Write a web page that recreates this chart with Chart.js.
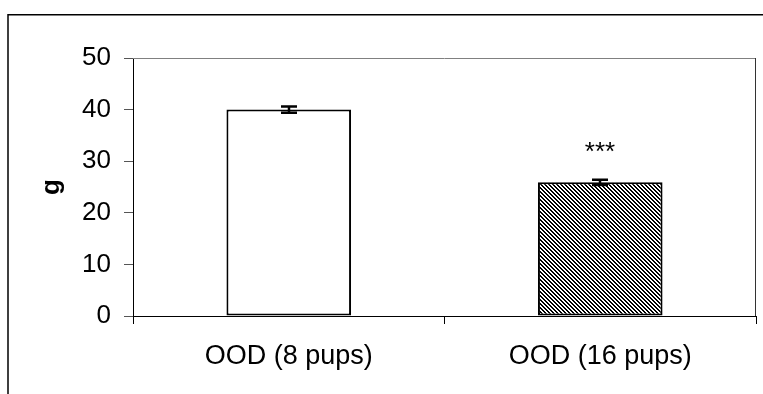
<!DOCTYPE html>
<html>
<head>
<meta charset="utf-8">
<script src="https://cdn.jsdelivr.net/npm/chart.js@4/dist/chart.umd.min.js"></script>
<style>
  html, body { margin: 0; padding: 0; background: #fff; }
  #wrap { width: 763px; height: 394px; position: relative; }
</style>
</head>
<body>
<div id="wrap"><canvas id="c" width="763" height="394"></canvas></div>
<script>
// Weight per group (g), with error bars and significance markers
const categories = ['OOD (8 pups)', 'OOD (16 pups)'];
const weightG = [40.0, 25.9];
const weightErr = [0.6, 0.5];
const significance = ['', '***'];
const yTickValues = [0, 10, 20, 30, 40, 50];

const FONT = 'Liberation Sans, Arial, sans-serif';
const canvas = document.getElementById('c');
const ctx2d = canvas.getContext('2d');

// Diagonal "\\" hatch fill for the second bar
function makeHatch() {
  const t = document.createElement('canvas');
  t.width = 4; t.height = 4;
  const g = t.getContext('2d');
  const img = g.createImageData(4, 4);
  for (let y = 0; y < 4; y++) {
    for (let x = 0; x < 4; x++) {
      const k = (((x - y) % 4) + 4) % 4;
      const v = k < 2 ? 0 : 255;
      const i = (y * 4 + x) * 4;
      img.data[i] = v; img.data[i + 1] = v; img.data[i + 2] = v; img.data[i + 3] = 255;
    }
  }
  g.putImageData(img, 0, 0);
  return ctx2d.createPattern(t, 'repeat');
}

// Frame lines, error bars and the significance marker
const decorations = {
  id: 'decorations',
  afterDraw(chart) {
    const { ctx, chartArea: a } = chart;
    ctx.save();
    // outer frame (left and top edges)
    ctx.strokeStyle = '#000';
    ctx.lineWidth = 1.5;
    ctx.beginPath();
    ctx.moveTo(8, 394);
    ctx.lineTo(8, 14.75);
    ctx.lineTo(763, 14.75);
    ctx.stroke();
    // plot area top and right edges
    ctx.lineWidth = 1;
    ctx.strokeStyle = '#808080';
    ctx.beginPath();
    ctx.moveTo(a.left, a.top + 0.5);
    ctx.lineTo(a.right, a.top + 0.5);
    ctx.stroke();
    ctx.strokeStyle = '#333';
    ctx.beginPath();
    ctx.moveTo(a.right - 0.5, a.top);
    ctx.lineTo(a.right - 0.5, a.bottom);
    ctx.stroke();
    ctx.restore();
  },
  afterDatasetsDraw(chart) {
    const { ctx, scales: { x, y } } = chart;
    ctx.save();
    ctx.strokeStyle = '#000';
    ctx.lineWidth = 2.5;
    weightG.forEach((v, i) => {
      const cx = Math.round(x.getPixelForValue(i));
      const yt = y.getPixelForValue(v + weightErr[i]);
      const yb = y.getPixelForValue(v - weightErr[i]);
      ctx.beginPath();
      ctx.moveTo(cx - 8, yt); ctx.lineTo(cx + 8, yt);
      ctx.moveTo(cx, yt); ctx.lineTo(cx, yb);
      ctx.moveTo(cx - 8, yb); ctx.lineTo(cx + 8, yb);
      ctx.stroke();
      if (significance[i]) {
        ctx.fillStyle = '#000';
        ctx.font = '26px ' + FONT;
        ctx.textAlign = 'center';
        ctx.textBaseline = 'alphabetic';
        ctx.fillText(significance[i], cx, yt - 20);
      }
    });
    ctx.restore();
  }
};

const chart = new Chart(canvas, {
  type: 'bar',
  data: {
    labels: categories,
    datasets: [{
      data: weightG,
      backgroundColor: ['#ffffff', makeHatch()],
      borderColor: '#000',
      borderWidth: 2,
      borderSkipped: false,
      barPercentage: 0.4,
      categoryPercentage: 1.0
    }]
  },
  options: {
    responsive: false,
    devicePixelRatio: 1,
    animation: false,
    layout: { padding: { left: 0, top: 58, right: 7, bottom: 0 } },
    plugins: { legend: { display: false }, tooltip: { enabled: false } },
    scales: {
      x: {
        offset: true,
        grid: {
          offset: true,
          drawOnChartArea: false,
          drawTicks: true,
          tickLength: 8,
          color: '#000',
          lineWidth: 1
        },
        border: { display: true, color: '#000', width: 1 },
        ticks: {
          color: '#000',
          font: { family: FONT, size: 27 },
          padding: 16,
          maxRotation: 0
        },
        afterFit(s) { s.height = 394 - 316; }
      },
      y: {
        min: 0,
        max: 50,
        afterBuildTicks(s) { s.ticks = yTickValues.map(v => ({ value: v })); },
        grid: {
          drawOnChartArea: false,
          drawTicks: true,
          tickLength: 9,
          color: '#555',
          lineWidth: 1
        },
        border: { display: true, color: '#000', width: 1 },
        ticks: {
          color: '#000',
          font: { family: FONT, size: 26 },
          padding: 13
        },
        title: {
          display: true,
          text: 'g',
          color: '#000',
          font: { family: FONT, size: 26, weight: 'bold' },
          padding: { top: 36, bottom: 0 }
        },
        afterFit(s) { s.width = 133; }
      }
    }
  },
  plugins: [decorations]
});
</script>
</body>
</html>
